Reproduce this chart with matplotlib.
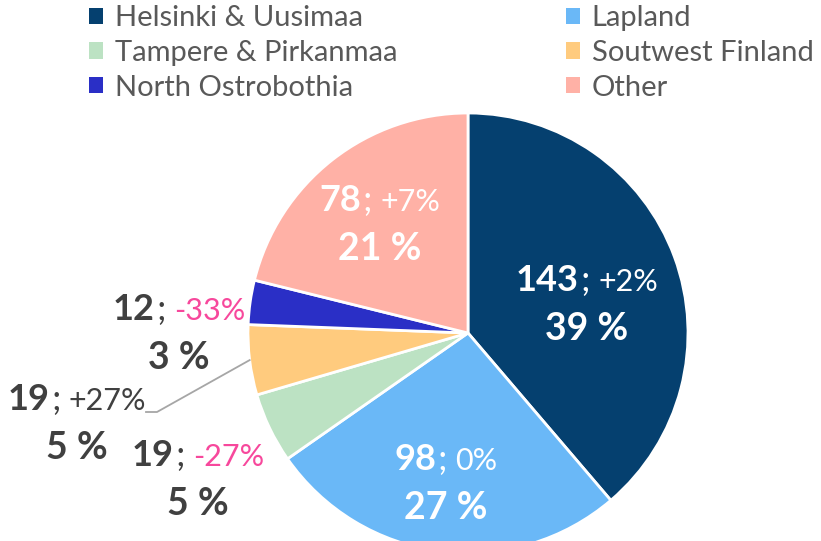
import matplotlib.pyplot as plt
import numpy as np
from matplotlib.patches import Patch
from matplotlib.offsetbox import TextArea, HPacker, VPacker, AnnotationBbox

plt.rcParams['font.family'] = ['Lato', 'DejaVu Sans']

# data
regions = ["Helsinki & Uusimaa", "Lapland", "Tampere & Pirkanmaa",
           "Soutwest Finland", "North Ostrobothia", "Other"]
counts = [143, 98, 19, 19, 12, 78]
changes = ["+2%", "0%", "-27%", "+27%", "-33%", "+7%"]
colors = ["#05406F", "#6AB8F7", "#BCE2C3", "#FFCB7E", "#2A2FC6", "#FFB1A6"]

# label block centres (pixels, measured from top-left)
label_pos = [(587, 305), (446, 484), (198, 480), (77, 424), (179, 334), (380, 225)]
inside = [True, True, False, False, False, True]

W, H = 821, 541
fig = plt.figure(figsize=(W / 100, H / 100), dpi=100)
ax = fig.add_axes([0, 0, 1, 1])

cx, cy, r = 468, H - 333, 220
wedges, _ = ax.pie(counts, colors=colors, startangle=90, counterclock=False,
                   center=(cx, cy), radius=r,
                   wedgeprops=dict(edgecolor="white", linewidth=2))
ax.set_xlim(0, W)
ax.set_ylim(0, H)
ax.set_aspect("equal")
ax.axis("off")

total = sum(counts)
fs = 26
fs_small = 22
dark = "#404040"
pink = "#F7489C"
for i, (c, ch) in enumerate(zip(counts, changes)):
    base = "white" if inside[i] else dark
    ch_col = pink if ch.startswith("-") else base
    pct = round(c / total * 100)
    num = HPacker(children=[
        TextArea(str(c), textprops=dict(color=base, fontsize=fs, fontweight="bold")),
        TextArea(";", textprops=dict(color=base, fontsize=fs)),
    ], align="baseline", pad=0, sep=1)
    l1 = HPacker(children=[
        num,
        TextArea(ch, textprops=dict(color=ch_col, fontsize=fs_small)),
    ], align="baseline", pad=0, sep=6)
    l2 = TextArea(f"{pct} %", textprops=dict(color=base, fontsize=fs + 1, fontweight="bold"))
    box = VPacker(children=[l1, l2], align="center", pad=0, sep=11)
    x, y = label_pos[i]
    ax.add_artist(AnnotationBbox(box, (x, H - y), frameon=False,
                                 box_alignment=(0.5, 0.5), pad=0))

# leader line for Soutwest Finland
w = wedges[3]
mid = np.deg2rad((w.theta1 + w.theta2) / 2)
sx, sy = cx + r * np.cos(mid), cy + r * np.sin(mid)
ax.plot([sx, 157, 146], [sy, H - 412, H - 412], color="#A6A6A6", lw=1.3)

# legend, two columns
handles = [Patch(facecolor=col, edgecolor="none") for col in colors]
for k, x0 in enumerate([89, 566]):
    idx = [k, k + 2, k + 4]
    fig.legend([handles[j] for j in idx], [regions[j] for j in idx],
               loc="upper left", bbox_to_anchor=(x0 / W, 1 - 5 / H),
               frameon=False, fontsize=21, labelcolor="#595959",
               handlelength=0.48, handleheight=0.48, handletextpad=0.4,
               labelspacing=0.3, borderpad=0, borderaxespad=0)

fig.savefig("out.png", dpi=100)
